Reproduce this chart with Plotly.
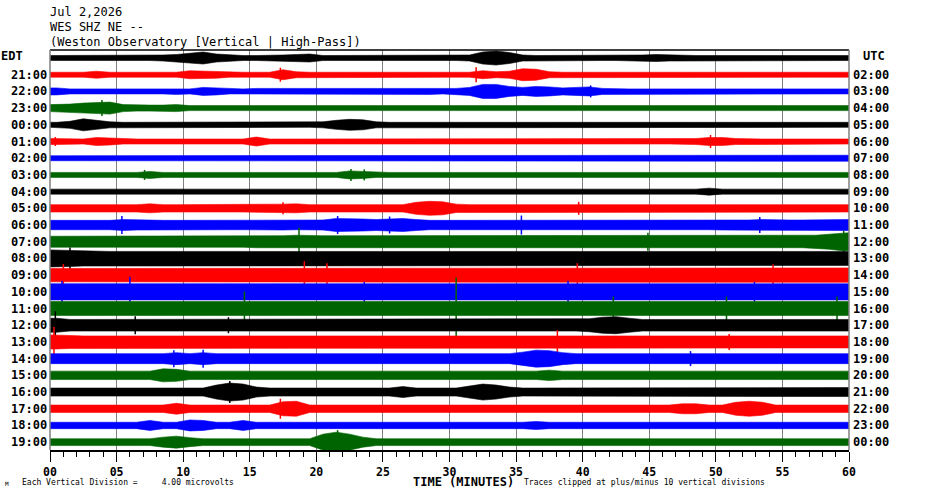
import plotly.graph_objects as go

# half-amplitude of each hourly trace (pixels), one value per minute 0..59
env_20 = [2.5, 2.5, 3, 2.5, 3, 2.5, 2.5, 2.5, 3, 3.5,
          5, 6, 4, 3, 2.5, 2.5, 2.5, 3, 3.5, 4,
          2.5, 2.5, 3, 2.5, 2.5, 3, 2.5, 2.5, 2.5, 2.5,
          2.5, 3, 6, 7, 5.5, 3, 2.5, 2.5, 2.5, 2.5,
          2.5, 2.5, 2.5, 2.5, 3, 3.5, 3, 2.5, 2.5, 2.5,
          2.5, 2.5, 3, 2.5, 2.5, 2.5, 2.5, 3, 2.5, 2.5]
env_21 = [2.5, 2.5, 2.5, 3.5, 2.5, 2.5, 2.5, 2.5, 2.5, 2.5,
          4, 3.5, 3.5, 2.5, 2.5, 2.5, 2.5, 5, 3, 2.5,
          2.5, 2.5, 2.5, 3, 2.5, 2.5, 2.5, 2.5, 3, 2.5,
          2.5, 2.5, 4, 3, 3.5, 6, 5.5, 3, 2.5, 2.5,
          2.5, 2.5, 2.5, 2.5, 2.5, 3, 2.5, 2.5, 3, 2.5,
          2.5, 2.5, 2.5, 2.5, 2.5, 2.5, 3, 2.5, 2.5, 2.5]
env_22 = [3.5, 2.5, 2.5, 2.5, 3, 2.5, 2.5, 2.5, 2.5, 3,
          2.5, 4, 3.5, 2.5, 2.5, 3, 3, 2.5, 2.5, 2.5,
          2.5, 2.5, 2.5, 2.5, 3, 2.5, 2.5, 3, 3, 2.5,
          3, 4, 7, 7, 5, 4, 5, 4.5, 3.5, 4,
          4.5, 3, 2.5, 2.5, 2.5, 2.5, 2.5, 2.5, 2.5, 2.5,
          2.5, 3, 2.5, 2.5, 2.5, 2.5, 3, 2.5, 2.5, 2.5]
env_23 = [3.5, 4, 5, 5.5, 6, 3.5, 3, 3, 3, 3.5,
          2.5, 2.5, 2.5, 2.5, 2.5, 2.5, 2.5, 2.5, 2.5, 2.5,
          3, 2.5, 2.5, 2.5, 2.5, 2.5, 2.5, 2.5, 2.5, 2.5,
          2.5, 2.5, 3, 2.5, 2.5, 2.5, 2.5, 3, 2.5, 2.5,
          2.5, 2.5, 2.5, 3, 2.5, 2.5, 2.5, 2.5, 2.5, 3,
          2.5, 2.5, 2.5, 2.5, 2.5, 3, 2.5, 2.5, 3, 2.5]
env_00 = [2.5, 3.5, 6, 4.5, 3, 2.5, 2.5, 2.5, 2.5, 2.5,
          2.5, 2.5, 2.5, 2.5, 2.5, 2.5, 2.5, 2.5, 2.5, 2.5,
          3, 4.5, 5.5, 5, 3, 2.5, 2.5, 2.5, 2.5, 2.5,
          2.5, 2.5, 2.5, 2.5, 2.5, 2.5, 2.5, 3, 2.5, 2.5,
          2.5, 2.5, 2.5, 2.5, 2.5, 2.5, 2.5, 2.5, 2.5, 2.5,
          2.5, 2.5, 2.5, 2.5, 2.5, 2.5, 2.5, 2.5, 2.5, 2.5]
env_01 = [3, 3, 2.5, 4, 3.5, 2.5, 2.5, 2.5, 2.5, 2.5,
          2.5, 2.5, 2.5, 2.5, 2.5, 4.5, 2.5, 2.5, 2.5, 2.5,
          2.5, 2.5, 2.5, 3, 2.5, 2.5, 2.5, 2.5, 2.5, 2.5,
          2.5, 2.5, 2.5, 2.5, 2.5, 2.5, 2.5, 2.5, 2.5, 2.5,
          2.5, 2.5, 2.5, 2.5, 2.5, 2.5, 2.5, 2.5, 3, 4,
          4, 3, 2.5, 2.5, 2.5, 2.5, 2.5, 2.5, 2.5, 2.5]
env_02 = [2.5, 2.5, 2.5, 2.5, 2.5, 2.5, 2.5, 2.5, 2.5, 2.5,
          3, 2.5, 2.5, 2.5, 3, 2.5, 2.5, 2.5, 2.5, 2.5,
          2.5, 2.5, 2.5, 2.5, 2.5, 2.5, 2.5, 2.5, 3, 2.5,
          2.5, 2.5, 2.5, 2.5, 2.5, 2.5, 2.5, 2.5, 2.5, 2.5,
          2.5, 2.5, 2.5, 2.5, 3, 2.5, 2.5, 2.5, 2.5, 2.5,
          2.5, 2.5, 2.5, 2.5, 2.5, 2.5, 2.5, 2.5, 2.5, 3]
env_03 = [2.5, 2.5, 2.5, 2.5, 2.5, 2.5, 2.5, 3.5, 2.5, 2.5,
          2.5, 2.5, 2.5, 2.5, 2.5, 2.5, 2.5, 2.5, 2.5, 2.5,
          2.5, 2.5, 4, 3.5, 2.5, 2.5, 2.5, 2.5, 2.5, 2.5,
          2.5, 2.5, 2.5, 2.5, 2.5, 2.5, 3, 2.5, 2.5, 2.5,
          2.5, 2.5, 2.5, 2.5, 2.5, 2.5, 3, 2.5, 2.5, 2.5,
          3, 2.5, 2.5, 2.5, 3, 2.5, 2.5, 2.5, 3, 2.5]
env_04 = [2.5, 2.5, 2.5, 2.5, 2.5, 2.5, 2.5, 2.5, 2.5, 3,
          2.5, 2.5, 2.5, 2.5, 2.5, 2.5, 2.5, 2.5, 2.5, 2.5,
          2.5, 2.5, 3, 2.5, 2.5, 2.5, 2.5, 2.5, 2.5, 2.5,
          2.5, 2.5, 2.5, 2.5, 2.5, 2.5, 2.5, 2.5, 2.5, 2.5,
          2.5, 3, 2.5, 2.5, 2.5, 2.5, 2.5, 2.5, 2.5, 3.5,
          2.5, 2.5, 2.5, 2.5, 2.5, 3, 2.5, 2.5, 2.5, 2.5]
env_05 = [3.7, 3.7, 3.7, 3.7, 3.7, 3.7, 3.7, 4.5, 3.7, 3.7,
          3.7, 3.7, 3.7, 3.7, 3.7, 3.7, 3.7, 4.2, 4.5, 3.7,
          3.7, 3.7, 3.7, 3.7, 3.7, 3.7, 3.7, 6, 7, 6.5,
          4.2, 3.7, 3.7, 3.7, 3.7, 3.7, 3.7, 3.7, 3.7, 4.2,
          4.2, 3.7, 3.7, 3.7, 3.7, 3.7, 3.7, 3.7, 3.7, 3.7,
          3.7, 3.7, 3.7, 3.7, 3.7, 3.7, 3.7, 4.2, 3.7, 3.7]
env_06 = [4.7, 4.7, 4.7, 4.7, 4.7, 5.5, 5, 4.7, 4.7, 4.7,
          4.7, 4.7, 4.7, 4.7, 4.7, 4.7, 4.7, 5, 4.7, 4.7,
          5, 6.5, 6.5, 6, 5.5, 6, 6.5, 5.5, 4.7, 4.7,
          4.7, 4.7, 4.7, 4.7, 4.7, 5, 5, 4.7, 4.7, 4.7,
          4.7, 4.7, 4.7, 4.7, 4.7, 4.7, 4.7, 4.7, 4.7, 4.7,
          5, 5, 5, 5.5, 5, 5, 5, 5, 5.5, 5.5]
env_07 = [5.5, 5.5, 5.5, 5.5, 5.5, 5.5, 5.5, 5.5, 5.5, 5.5,
          5.5, 5.5, 5.5, 5.5, 5.5, 6, 6, 6, 6.5, 6,
          6, 6, 6, 6, 6, 6, 6, 6, 6, 6,
          6, 6, 6, 6, 6, 6, 6, 6, 6, 6,
          6, 6, 6, 6, 6, 6, 6, 6, 6, 6,
          6, 6, 6, 6, 6, 6, 6, 6.5, 7.5, 9]
env_08 = [8.5, 8, 7.6, 7, 7, 7, 7, 7, 7, 7,
          7, 7, 7.4, 7, 7, 7, 7, 7, 7, 7,
          7.4, 7, 7, 7, 7, 7.4, 7, 7, 7, 7,
          7, 7, 7, 7, 7, 7, 7, 7, 7, 7,
          7, 7, 7, 7, 7, 7.4, 7, 7, 7, 7,
          7.4, 7, 7, 7, 7, 7, 7.4, 7, 7, 7]
env_09 = [6.7, 7.2, 7.2, 7.2, 7.2, 6.7, 6.7, 6.7, 6.7, 6.7,
          6.7, 6.7, 6.7, 6.7, 6.7, 6.7, 6.7, 6.7, 6.7, 6.7,
          7.2, 7.2, 7.2, 6.7, 6.7, 6.7, 6.7, 6.7, 6.7, 6.7,
          6.7, 6.7, 6.7, 6.7, 6.7, 6.7, 6.7, 6.7, 6.7, 6.7,
          6.7, 6.7, 6.7, 6.7, 6.7, 6.7, 6.7, 6.7, 6.7, 6.7,
          6.7, 6.7, 6.7, 6.7, 6.7, 7.2, 7.2, 7.2, 7.2, 7.2]
env_10 = [8.1, 8.1, 8.1, 8.1, 8.1, 8.1, 7.4, 7.4, 7.4, 7.4,
          7.4, 7.4, 7.4, 7.4, 7.4, 7.4, 7.4, 7.4, 7.4, 7.4,
          7.4, 7.4, 7.4, 7.4, 7.4, 7.4, 7.4, 7.4, 8.1, 8.1,
          8.1, 8.1, 8.1, 7.4, 7.4, 7.4, 7.4, 7.4, 7.4, 7.4,
          7.4, 7.4, 7.4, 7.4, 7.4, 8.1, 8.1, 8.1, 7.4, 7.4,
          7.4, 7.4, 7.4, 7.4, 7.4, 7.4, 7.4, 8.1, 8.1, 8.1]
env_11 = [7, 7, 7, 7, 7, 7, 7, 7, 7, 7,
          7, 7, 7, 7, 7, 7, 7, 7, 7, 7,
          7, 7, 7, 7, 7, 7, 7, 7, 7, 7.6,
          7.6, 7.6, 7.6, 7.6, 7.6, 7, 7, 7, 7, 7,
          7, 7, 7, 7, 7, 7, 7, 7, 7, 7,
          7, 7, 7.6, 7.6, 7.6, 7.6, 7.6, 7.6, 7.6, 7]
env_12 = [7, 5.8, 5.8, 5.8, 5.8, 5.8, 6.5, 5.8, 5.8, 5.8,
          5.8, 5.8, 5.8, 6.5, 5.8, 5.8, 5.8, 5.8, 5.8, 5.8,
          5.8, 5.8, 5.8, 5.8, 5.8, 5.8, 5.8, 5.8, 5.8, 5.8,
          5.8, 5.8, 5.8, 5.8, 5.8, 5.8, 5.8, 5.8, 5.8, 5.8,
          6.5, 8, 8.5, 7, 5.8, 5.8, 5.8, 5.8, 5.8, 5.8,
          5.8, 5.8, 5.8, 5.8, 5.8, 5.8, 5.8, 5.8, 6.5, 5.8]
env_13 = [7, 6.5, 6, 6, 6, 6, 6, 6, 6, 6,
          6, 6, 6, 6, 6, 6, 6, 6, 6, 6,
          6, 6, 6, 6, 6, 6, 6, 6, 6, 6,
          6, 6, 6, 6, 6, 6, 6, 6, 6, 6,
          6, 6, 6, 6, 6, 6, 6, 6, 6, 6,
          6, 6.5, 6, 6, 6, 6, 6, 6, 6, 6]
env_14 = [5, 5, 5, 5, 5, 5, 5, 5, 5, 6,
          5, 6, 5, 5, 5, 5, 5, 5, 5, 5,
          5, 5, 5, 5, 5, 5, 5, 5, 5, 5,
          5, 5, 5, 5, 5, 6.5, 8.5, 8, 6, 5,
          5, 5, 5, 5, 5, 5, 5, 5, 5.5, 5,
          5, 5, 5, 5, 5, 5, 5, 5, 5, 5]
env_15 = [4.2, 4.2, 4.2, 4.2, 4.2, 4.2, 4.2, 4.2, 6.5, 6,
          4.2, 4.2, 4.2, 4.2, 4.2, 4.2, 4.2, 4.2, 4.2, 4.2,
          4.2, 4.2, 4.2, 4.2, 4.2, 4.2, 4.2, 4.2, 4.2, 4.2,
          4.2, 4.2, 4.2, 4.2, 4.2, 4.2, 4.2, 5.2, 4.2, 4.2,
          4.2, 4.2, 4.2, 4.2, 4.2, 4.2, 4.2, 4.2, 4.2, 4.2,
          4.2, 4.2, 4.2, 4.2, 4.2, 4.2, 4.2, 4.2, 4.2, 4.2]
env_16 = [4, 4, 4, 4, 4, 4, 4, 4, 4, 4,
          4, 4, 7, 9, 8, 5, 4, 4, 4, 4,
          4, 4, 4, 4, 4, 4, 5.5, 4, 4, 4,
          4, 6, 8, 7, 5, 4, 4, 4, 4, 4,
          4, 4, 4, 4, 4, 4, 4, 4, 4, 4,
          4, 4.5, 4.5, 4.5, 4, 4, 4, 4, 4, 4.5]
env_17 = [3.7, 3.7, 3.7, 3.7, 3.7, 3.7, 3.7, 3.7, 3.7, 5.5,
          3.7, 3.7, 3.7, 3.7, 3.7, 3.7, 3.7, 7, 7.5, 3.7,
          3.7, 3.7, 3.7, 3.7, 3.7, 3.7, 3.7, 3.7, 3.7, 3.7,
          3.7, 3.7, 3.7, 3.7, 3.7, 3.7, 3.7, 3.7, 3.7, 3.7,
          3.7, 3.7, 3.7, 3.7, 3.7, 3.7, 3.7, 5, 5, 3.7,
          3.7, 6.5, 7.5, 6.5, 3.7, 3.7, 3.7, 3.7, 3.7, 3.7]
env_18 = [3.2, 3.2, 3.2, 3.2, 3.2, 3.2, 3.2, 5, 3.2, 3.2,
          5.5, 5, 3.2, 3.2, 5, 3.2, 3.2, 3.2, 3.2, 3.2,
          3.2, 3.2, 3.2, 3.2, 3.2, 3.2, 3.2, 3.2, 3.2, 3.2,
          3.2, 3.2, 3.2, 3.2, 3.2, 3.2, 4, 3.2, 3.2, 3.2,
          3.2, 3.2, 3.2, 3.2, 3.2, 3.2, 3.2, 3.2, 3.2, 3.2,
          3.2, 3.2, 3.2, 3.2, 3.2, 3.2, 3.2, 3.2, 3.2, 3.2]
env_19 = [3.4, 3.4, 3.4, 3.4, 3.4, 3.4, 3.4, 3.4, 5, 6,
          4.5, 3.4, 3.4, 3.4, 3.4, 3.4, 3.4, 3.4, 3.4, 3.4,
          8, 10, 8, 5, 3.4, 3.4, 3.4, 3.4, 3.4, 3.4,
          3.4, 3.4, 3.4, 3.4, 3.4, 3.4, 3.4, 3.4, 3.4, 3.4,
          3.4, 3.4, 3.4, 3.4, 3.4, 3.4, 3.4, 3.4, 3.4, 3.4,
          3.4, 3.4, 3.4, 3.4, 3.4, 3.4, 3.4, 3.4, 3.4, 3.4]

# single sharp spikes: (row, minute, half-amplitude px)
spikes = [(1, 17.3, 7), (1, 32.0, 7.5), (2, 40.6, 6), (3, 3.9, 8),
          (5, 0.4, 4.5), (5, 49.6, 6.5), (7, 7.1, 5), (7, 22.6, 6), (7, 23.6, 5.5),
          (9, 17.5, 6), (9, 39.7, 6.5), (10, 5.4, 9), (10, 21.6, 9), (10, 25.5, 8.5),
          (10, 35.4, 9.5), (10, 53.3, 8), (11, 18.7, 14), (11, 44.9, 9), (11, 59.6, 11),
          (12, 1.5, 11), (13, 1.0, 11), (13, 19.1, 14), (13, 20.8, 12), (13, 39.6, 12),
          (13, 54.3, 11), (14, 0.9, 11), (14, 6.0, 15), (14, 23.6, 10), (14, 38.9, 11),
          (14, 52.9, 10), (15, 14.6, 17), (15, 30.5, 31), (15, 42.3, 12), (15, 50.8, 12),
          (15, 59.1, 12), (16, 0.4, 14), (16, 6.4, 9), (16, 13.4, 8), (17, 0.3, 15),
          (17, 38.1, 12), (17, 51.0, 8), (18, 9.3, 8.5), (18, 11.5, 9), (18, 48.1, 7.5),
          (20, 13.5, 11), (21, 17.3, 10), (23, 21.6, 12)]

edt_labels = ["EDT", "21:00", "22:00", "23:00", "00:00", "01:00", "02:00", "03:00",
              "04:00", "05:00", "06:00", "07:00", "08:00", "09:00", "10:00", "11:00",
              "12:00", "13:00", "14:00", "15:00", "16:00", "17:00", "18:00", "19:00"]
utc_labels = ["UTC", "02:00", "03:00", "04:00", "05:00", "06:00", "07:00", "08:00",
              "09:00", "10:00", "11:00", "12:00", "13:00", "14:00", "15:00", "16:00",
              "17:00", "18:00", "19:00", "20:00", "21:00", "22:00", "23:00", "00:00"]
tick_vals = [0, 5, 10, 15, 20, 25, 30, 35, 40, 45, 50, 55, 60]
tick_text = ["00", "05", "10", "15", "20", "25", "30", "35", "40", "45", "50", "55", "60"]

rows = [env_20, env_21, env_22, env_23, env_00, env_01, env_02, env_03,
        env_04, env_05, env_06, env_07, env_08, env_09, env_10, env_11,
        env_12, env_13, env_14, env_15, env_16, env_17, env_18, env_19]
colors = ["#000000", "#ff0000", "#0000ff", "#006400"]
ROW_PX = 16.7  # pixels between two traces
MONO = "DejaVu Sans Mono"

fig = go.Figure()
for k, env in enumerate(rows):
    col = colors[k % 4]
    xs = [0] + [m + 0.5 for m in range(len(env))] + [60]
    a = [env[0]] + env + [env[-1]]
    top = [k - v / ROW_PX for v in a]
    bot = [k + v / ROW_PX for v in a]
    fig.add_trace(go.Scatter(x=xs + xs[::-1], y=top + bot[::-1], mode="lines",
                             fill="toself", fillcolor=col, line=dict(color=col, width=0.6),
                             hoverinfo="skip", showlegend=False))
    sx, sy = [], []
    for r, m, h in spikes:
        if r == k:
            sx += [m, m, None]
            sy += [k - h / ROW_PX, k + h / ROW_PX, None]
    if sx:
        fig.add_trace(go.Scatter(x=sx, y=sy, mode="lines", line=dict(color=col, width=1.5),
                                 hoverinfo="skip", showlegend=False))


def note(text, x, y, size=12, bold=False, xanchor="left", xref="paper", yref="paper", xshift=0):
    fig.add_annotation(text=text, x=x, y=y, xref=xref, yref=yref, xanchor=xanchor,
                       yanchor="middle", showarrow=False, xshift=xshift,
                       font=dict(family=MONO, size=size, color="black",
                                 weight="bold" if bold else "normal"))


for k in range(len(rows)):
    if k == 0:
        note(edt_labels[0], -50 / 799, -0.12, bold=True, yref="y", xshift=-1)
        note(utc_labels[0], 1.031, -0.12, bold=True, xanchor="center", yref="y")
    else:
        note(edt_labels[k], 0, k, bold=True, xanchor="right", yref="y", xshift=-1)
        note(utc_labels[k], 1, k, bold=True, yref="y", xshift=2)

note("Jul 2,2026", 0, 1.095, xshift=-2)
note("WES SHZ NE --", 0, 1.0575, xshift=-2)
note("(Weston Observatory [Vertical | High-Pass])", 0, 1.02, xshift=-2)
note("TIME (MINUTES)", 0.517, -0.08, bold=True, xanchor="center")
note("Each Vertical Division =\u00a0\u00a0\u00a0\u00a0\u00a04.00 microvolts", -30 / 799, -0.081, size=8)
note("Traces clipped at plus/minus 10 vertical divisions", 472 / 799, -0.081, size=8)
note("M", -47 / 799, -0.084, size=6)

# frame: black top, grey sides
fig.add_shape(type="line", xref="paper", yref="paper", x0=0, x1=1, y0=1, y1=1,
              line=dict(color="black", width=1.5))
fig.add_shape(type="line", xref="paper", yref="paper", x0=0, x1=0, y0=0, y1=1,
              line=dict(color="#808080", width=1.5))
fig.add_shape(type="line", xref="paper", yref="paper", x0=1, x1=1, y0=0, y1=1,
              line=dict(color="#808080", width=1.5))

fig.update_layout(
    width=930, height=494,
    margin=dict(l=50, r=81, t=50, b=44),
    plot_bgcolor="white", paper_bgcolor="white",
    showlegend=False, hovermode=False,
    xaxis=dict(range=[0, 60], tickmode="array", tickvals=tick_vals, ticktext=tick_text,
               ticks="outside", ticklen=10, tickwidth=1, tickcolor="black",
               ticklabelstandoff=0,
               showgrid=True, gridcolor="#808080", gridwidth=1.2, zeroline=False,
               showline=True, linecolor="black", linewidth=1.5, layer="above traces",
               tickfont=dict(family=MONO, size=11.5, color="black", weight="bold"),
               minor=dict(tick0=0, dtick=1, ticks="outside", ticklen=5, tickwidth=1,
                          tickcolor="black", showgrid=False)),
    yaxis=dict(range=[23.47, -0.48], visible=False),
)

# drop the browser's default 8px body margin so the figure sits at the page corner
fig.write_html("out.html", config={"displayModeBar": False},
               post_script="document.body.style.margin = '0px';")
